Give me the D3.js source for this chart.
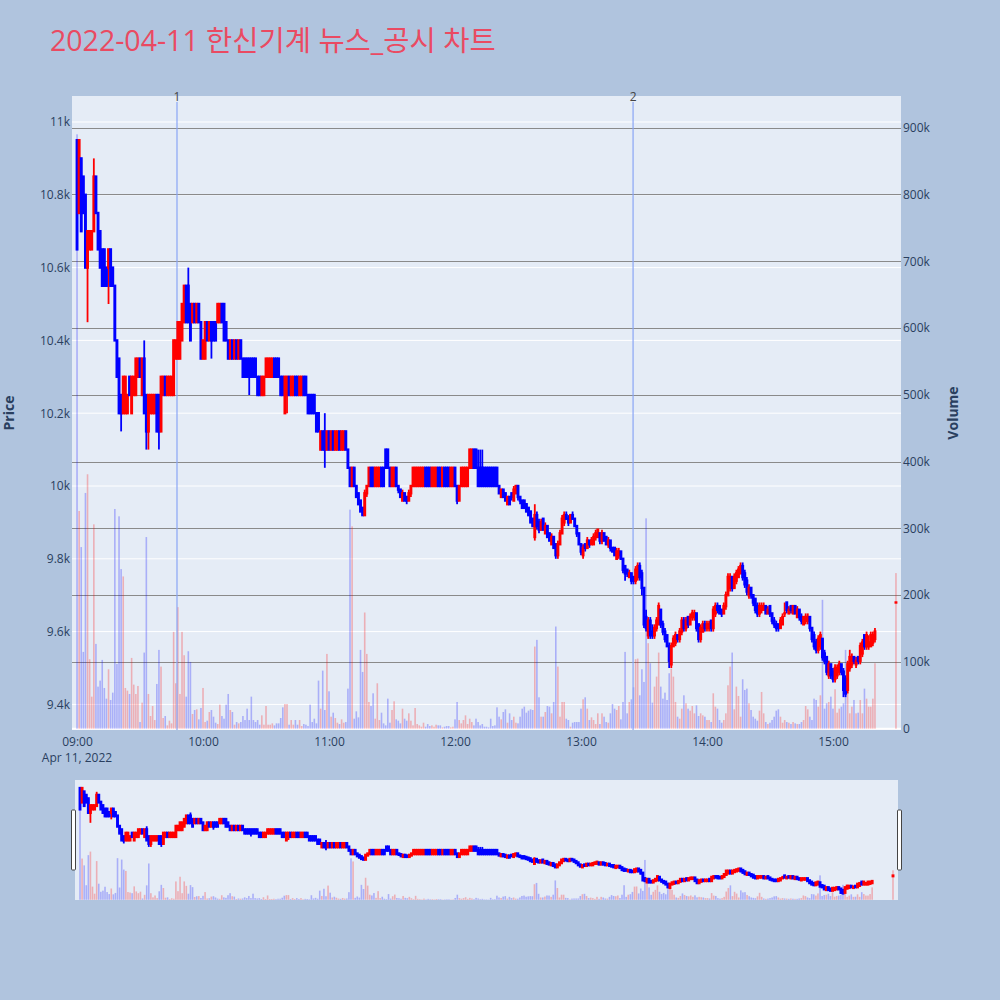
<!DOCTYPE html>
<html><head><meta charset="utf-8">
<script src="https://cdn.jsdelivr.net/npm/d3@7"></script>
<style>body{margin:0;background:#b0c4de;}svg{display:block}</style>
</head><body>
<svg id="chart" width="1000" height="1000"></svg>
<script>
// ---------------- DATA ----------------
const titleText = "2022-04-11 한신기계 뉴스_공시 차트";
const dateLabel = "Apr 11, 2022";
const hourTicks = ["09:00","10:00","11:00","12:00","13:00","14:00","15:00"];
const priceTicks = [9400,9600,9800,10000,10200,10400,10600,10800,11000];
const volumeTicks = [0,100000,200000,300000,400000,500000,600000,700000,800000,900000];
const eventLabels = ["1","2"];
const eventTimes = ["09:47:36","13:24:48"];

// 1-minute candles [open, high, low, close], one array per hour
const hour0900 = [
[10950,10950,10650,10650],[10750,10950,10750,10950],[10900,10900,10700,10700],[10850,10850,10750,10750],[10800,10800,10600,10600],
[10600,10700,10450,10700],[10650,10700,10650,10700],[10650,10700,10650,10700],[10700,10900,10700,10850],[10850,10850,10750,10750],
[10750,10750,10650,10650],[10700,10700,10600,10600],[10650,10650,10550,10550],[10650,10650,10550,10550],[10600,10600,10550,10550],
[10600,10650,10500,10650],[10650,10650,10550,10550],[10600,10600,10550,10550],[10550,10550,10400,10400],[10400,10400,10300,10300],
[10350,10350,10200,10200],[10250,10250,10150,10200],[10200,10300,10200,10300],[10200,10300,10200,10300],[10200,10250,10200,10250],
[10300,10300,10250,10250],[10200,10300,10200,10300],[10250,10300,10250,10300],[10250,10350,10250,10350],[10300,10350,10300,10350],
[10350,10350,10300,10300],[10250,10350,10250,10350],[10350,10400,10200,10200],[10250,10250,10100,10150],[10150,10250,10100,10250],
[10200,10250,10200,10250],[10200,10250,10200,10250],[10200,10250,10200,10250],[10250,10250,10150,10150],[10250,10250,10100,10150],
[10150,10300,10150,10300],[10250,10300,10250,10300],[10300,10300,10250,10250],[10250,10300,10250,10300],[10250,10300,10250,10300],
[10250,10300,10250,10300],[10250,10400,10250,10400],[10350,10400,10350,10400],[10350,10450,10350,10450],[10350,10450,10350,10450],
[10400,10500,10400,10500],[10450,10550,10450,10550],[10550,10550,10450,10450],[10550,10600,10450,10450],[10500,10500,10400,10400],
[10450,10500,10450,10500],[10500,10500,10450,10450],[10450,10500,10450,10500],[10500,10500,10450,10450],[10450,10450,10350,10350]];
const hour1000 = [
[10350,10400,10350,10400],[10350,10450,10350,10450],[10450,10450,10400,10400],[10400,10450,10400,10450],[10450,10450,10350,10400],
[10450,10450,10400,10400],[10450,10450,10400,10400],[10450,10500,10450,10500],[10450,10500,10450,10500],[10500,10500,10450,10450],
[10500,10500,10400,10400],[10450,10450,10400,10400],[10400,10400,10350,10350],[10350,10400,10350,10400],[10400,10400,10350,10350],
[10350,10400,10350,10400],[10400,10400,10350,10350],[10350,10400,10350,10400],[10400,10400,10350,10350],[10350,10350,10300,10300],
[10350,10350,10300,10300],[10350,10350,10300,10300],[10350,10350,10250,10300],[10350,10350,10300,10300],[10350,10350,10300,10300],
[10350,10350,10300,10300],[10300,10300,10250,10250],[10300,10300,10250,10250],[10250,10300,10250,10300],[10250,10300,10250,10300],
[10300,10350,10300,10350],[10300,10350,10300,10350],[10300,10350,10300,10350],[10300,10350,10300,10350],[10350,10350,10300,10300],
[10350,10350,10300,10300],[10350,10350,10300,10300],[10300,10300,10250,10250],[10300,10300,10250,10250],[10200,10300,10200,10300],
[10250,10300,10200,10300],[10300,10300,10250,10250],[10250,10300,10250,10300],[10250,10300,10250,10300],[10300,10300,10250,10250],
[10300,10300,10250,10250],[10250,10300,10250,10300],[10250,10300,10250,10300],[10300,10300,10250,10250],[10300,10300,10250,10250],
[10250,10250,10200,10200],[10250,10250,10200,10200],[10250,10250,10200,10200],[10250,10250,10200,10200],[10200,10200,10150,10150],
[10200,10200,10150,10150],[10100,10150,10100,10150],[10150,10150,10100,10100],[10150,10200,10050,10100],[10100,10150,10100,10150]];
const hour1100 = [
[10150,10150,10100,10100],[10100,10150,10100,10150],[10150,10150,10100,10100],[10100,10150,10100,10150],[10100,10150,10100,10150],
[10150,10150,10100,10100],[10100,10150,10100,10150],[10100,10150,10100,10150],[10150,10150,10100,10100],[10100,10100,10050,10050],
[10050,10050,10000,10000],[10000,10050,10000,10050],[10050,10050,10000,10000],[10000,10000,9970,9970],[9980,9980,9950,9950],
[9960,9960,9930,9930],[9940,9940,9920,9920],[9920,9990,9920,9980],[9980,10000,9970,10000],[10000,10050,10000,10050],
[10050,10050,10000,10000],[10050,10050,10000,10000],[10000,10050,10000,10050],[10000,10050,10000,10050],[10000,10050,10000,10050],
[10050,10050,10000,10000],[10050,10050,10000,10000],[10100,10100,10050,10050],[10100,10100,10050,10050],[10050,10050,10000,10000],
[10000,10050,10000,10050],[10000,10050,10000,10050],[10050,10050,10000,10000],[10000,10000,9980,9990],[9990,9990,9970,9970],
[9960,9990,9960,9980],[9980,9980,9960,9960],[9970,9970,9950,9960],[9960,9990,9960,9980],[9980,10000,9970,10000],
[10000,10050,10000,10050],[10000,10050,10000,10050],[10000,10050,10000,10050],[10000,10050,10000,10050],[10000,10050,10000,10050],
[10000,10050,10000,10050],[10050,10050,10000,10000],[10050,10050,10000,10000],[10050,10050,10000,10000],[10000,10050,10000,10050],
[10000,10050,10000,10050],[10000,10050,10000,10050],[10050,10050,10000,10000],[10050,10050,10000,10000],[10000,10050,10000,10050],
[10050,10050,10000,10000],[10050,10050,10000,10000],[10050,10050,10000,10000],[10000,10050,10000,10050],[10000,10050,10000,10050]];
const hour1200 = [
[10050,10050,10000,10000],[10000,10000,9950,9960],[9960,10000,9960,10000],[10000,10050,10000,10050],[10000,10050,10000,10050],
[10000,10050,10000,10050],[10000,10050,10000,10050],[10050,10100,10050,10100],[10050,10100,10050,10100],[10100,10100,10050,10050],
[10100,10100,10050,10050],[10050,10100,10000,10000],[10050,10100,10000,10000],[10050,10100,10000,10000],[10050,10050,10000,10000],
[10050,10050,10000,10000],[10050,10050,10000,10000],[10050,10050,10000,10000],[10050,10050,10000,10000],[10050,10050,10000,10000],
[10050,10050,10000,10000],[10000,10000,9980,9980],[9970,9990,9970,9990],[9990,9990,9970,9970],[9980,9980,9960,9960],
[9950,9970,9950,9970],[9970,9970,9950,9950],[9980,9980,9960,9970],[9960,10000,9960,9990],[9980,10000,9980,10000],
[10000,10000,9960,9970],[9970,9970,9950,9960],[9960,9960,9940,9940],[9960,9960,9940,9940],[9950,9950,9930,9930],
[9940,9940,9920,9920],[9930,9930,9900,9900],[9910,9910,9890,9890],[9860,9950,9850,9920],[9920,9930,9880,9890],
[9900,9910,9870,9880],[9880,9910,9880,9900],[9910,9910,9880,9880],[9870,9900,9870,9890],[9890,9890,9860,9860],
[9870,9870,9850,9850],[9840,9870,9840,9860],[9860,9860,9830,9830],[9840,9840,9800,9810],[9810,9850,9800,9840],
[9840,9880,9840,9870],[9870,9920,9870,9910],[9900,9930,9890,9920],[9920,9930,9910,9910],[9910,9920,9890,9900],
[9900,9920,9900,9920],[9920,9930,9910,9910],[9910,9910,9890,9890],[9890,9890,9860,9870],[9870,9870,9840,9840]];
const hour1300 = [
[9840,9840,9810,9820],[9810,9840,9800,9830],[9840,9840,9820,9830],[9830,9860,9830,9850],[9850,9850,9830,9840],
[9840,9860,9840,9850],[9840,9870,9840,9860],[9860,9880,9850,9870],[9860,9880,9860,9880],[9870,9870,9840,9850],
[9850,9880,9840,9870],[9870,9870,9850,9850],[9860,9860,9840,9840],[9840,9860,9830,9850],[9850,9850,9820,9830],
[9830,9830,9820,9820],[9830,9830,9810,9810],[9800,9830,9800,9820],[9810,9830,9800,9820],[9820,9820,9800,9800],
[9800,9800,9760,9770],[9780,9780,9740,9760],[9770,9770,9750,9760],[9750,9770,9750,9760],[9760,9760,9730,9740],
[9750,9750,9730,9740],[9740,9780,9730,9770],[9750,9790,9740,9780],[9780,9790,9740,9750],[9760,9770,9700,9720],
[9720,9720,9610,9620],[9640,9660,9600,9610],[9590,9640,9580,9630],[9630,9640,9580,9590],[9600,9620,9580,9590],
[9590,9620,9580,9610],[9610,9640,9600,9630],[9620,9680,9620,9670],[9660,9660,9610,9620],[9620,9630,9590,9600],
[9600,9610,9570,9580],[9590,9590,9560,9560],[9560,9570,9500,9520],[9510,9570,9500,9560],[9560,9590,9560,9580],
[9570,9600,9560,9590],[9590,9590,9570,9580],[9580,9610,9570,9600],[9600,9640,9590,9630],[9630,9640,9600,9610],
[9610,9640,9600,9630],[9640,9640,9610,9620],[9620,9650,9620,9640],[9640,9660,9630,9650],[9640,9660,9630,9650],
[9650,9650,9600,9610],[9620,9620,9570,9580],[9580,9620,9570,9610],[9600,9630,9600,9620],[9620,9630,9600,9610]];
const hour1400 = [
[9610,9630,9600,9620],[9610,9630,9600,9620],[9630,9630,9600,9610],[9610,9670,9600,9660],[9650,9680,9640,9670],
[9670,9680,9650,9660],[9670,9670,9650,9650],[9660,9660,9640,9650],[9650,9680,9650,9670],[9670,9710,9660,9700],
[9700,9760,9700,9750],[9720,9760,9710,9750],[9750,9750,9710,9720],[9720,9760,9720,9750],[9740,9770,9730,9760],
[9750,9780,9750,9770],[9760,9790,9760,9780],[9780,9790,9740,9750],[9760,9770,9720,9730],[9740,9750,9700,9710],
[9700,9730,9690,9720],[9720,9720,9690,9700],[9700,9700,9670,9680],[9690,9690,9650,9660],[9670,9680,9640,9650],
[9650,9680,9640,9670],[9660,9680,9650,9670],[9660,9680,9660,9670],[9670,9670,9650,9650],[9650,9670,9650,9660],
[9670,9670,9640,9650],[9650,9650,9620,9630],[9630,9640,9610,9620],[9620,9630,9600,9610],[9620,9620,9600,9610],
[9610,9640,9610,9630],[9620,9650,9620,9640],[9650,9680,9640,9650],[9680,9680,9650,9660],[9650,9670,9650,9660],
[9670,9670,9650,9660],[9650,9670,9650,9670],[9670,9670,9650,9650],[9640,9670,9640,9660],[9660,9660,9630,9640],
[9640,9650,9620,9630],[9620,9640,9620,9640],[9630,9650,9620,9640],[9630,9650,9620,9640],[9640,9640,9600,9610],
[9610,9610,9570,9580],[9590,9600,9550,9560],[9570,9580,9540,9550],[9550,9590,9540,9580],[9560,9600,9550,9590],
[9580,9580,9520,9530],[9540,9550,9510,9520],[9530,9530,9480,9490],[9480,9520,9470,9510],[9510,9510,9470,9480]];
const hour1500 = [
[9490,9500,9460,9470],[9470,9510,9460,9500],[9480,9510,9470,9500],[9490,9520,9480,9510],[9510,9510,9480,9490],
[9490,9500,9420,9440],[9470,9480,9420,9430],[9440,9520,9430,9510],[9500,9550,9490,9530],[9510,9540,9500,9530],
[9530,9530,9510,9520],[9510,9530,9500,9520],[9530,9530,9510,9520],[9520,9570,9510,9560],[9540,9580,9530,9570],
[9590,9590,9550,9560],[9560,9600,9550,9590],[9560,9590,9550,9570],[9560,9600,9560,9590],[9570,9600,9560,9590],
[9580,9610,9570,9600]];
const closingTime = "15:30";
const closingOhlc = [9680,9680,9680,9680];

// volume per minute, in thousands of shares
const vol0900 = [890,326,272,115,353,381,104,48,306,127, 63,72,103,61,45,89,43,54,329,97, 318,239,228,61,57,52,106,66,52,64,
 10,39,114,287,52,19,34,13,67,118, 93,16,19,5,12,8,145,68,182,52, 145,110,48,116,100,22,28,29,14,31];
const vol1000 = [61,10,12,25,28,18,9,7,36,19, 15,36,52,28,25,6,10,8,10,19, 13,30,13,48,13,10,13,6,20,6,
 34,6,6,8,5,8,8,16,32,37, 37,6,13,6,13,6,13,4,7,6, 4,36,10,15,8,72,30,87,28,112];
const vol1100 = [56,18,24,16,9,7,14,9,10,60, 328,303,15,26,17,118,85,174,112,40, 34,53,15,68,13,24,8,5,45,9,
 28,41,14,12,8,30,15,12,23,12, 5,31,7,5,3,9,3,7,4,5, 3,6,5,5,2,3,4,4,2,3];
const vol1200 = [14,40,13,8,13,20,7,15,10,5, 15,10,5,7,3,3,2,15,4,5, 32,18,14,25,29,9,23,13,18,9,
 8,18,30,33,24,27,29,28,123,133, 47,18,18,25,34,33,23,40,153,93, 18,40,40,15,13,3,9,10,10,10];
const vol1300 = [30,44,47,30,13,17,13,7,23,7, 23,18,10,9,23,37,30,28,34,14, 40,115,23,40,44,62,104,105,50,89,
 70,315,128,98,39,63,78,114,63,45, 54,43,83,90,78,40,18,15,30,50, 38,30,27,34,23,35,19,23,20,18];
const vol1400 = [13,13,10,53,33,30,13,9,13,23, 65,93,114,29,63,49,18,74,58,60, 38,28,18,15,12,27,55,23,10,7,
 9,13,18,27,29,18,9,13,10,9, 7,10,8,7,7,10,13,34,29,18, 13,45,43,33,50,193,30,38,40,48];
const vol1500 = [30,59,24,30,33,38,118,55,23,33, 43,23,24,43,23,60,45,33,33,45, 98];
const closingVolume = 233;

// ---------------- BUILD ----------------
const day = "2022-04-11";
const parseT = d3.timeParse("%Y-%m-%d %H:%M:%S");
const t0 = parseT(day + " 09:00:00");
const MIN = 60000;
const hourBlocks = [[hour0900,vol0900,9],[hour1000,vol1000,10],[hour1100,vol1100,11],[hour1200,vol1200,12],
                    [hour1300,vol1300,13],[hour1400,vol1400,14],[hour1500,vol1500,15]];
const rows = [];
hourBlocks.forEach(([c, v, h]) => {
  c.forEach((k, i) => rows.push({t: new Date(+t0 + ((h - 9) * 60 + i) * MIN), o:k[0], h:k[1], l:k[2], c:k[3], v:(v[i]||0)*1000}));
});
rows.push({t: parseT(day + " " + closingTime + ":00"), o:closingOhlc[0], h:closingOhlc[1], l:closingOhlc[2], c:closingOhlc[3], v:closingVolume*1000});

const RED = "#ff0000", BLUE = "#0000ff";
const colorOf = d => d.c >= d.o ? RED : BLUE;

const svg = d3.select("#chart");
const FONT = "'Open Sans', verdana, arial, sans-serif";
const TXT = "#2a3f5f";
svg.append("rect").attr("width",1000).attr("height",1000).attr("fill","#b0c4de");

const P = {l:72, r:901, t:96, b:730};
const S = {l:75, r:898, t:780, b:900};
const xDomain = [new Date(+t0 - 2.4*MIN), new Date(+t0 + 392.4*MIN)];
const x = d3.scaleTime().domain(xDomain).range([P.l, P.r]);
const yP = d3.scaleLinear().domain([9329.7, 11071.4]).range([P.b, P.t]);
const yV = d3.scaleLinear().domain([-1950, 947400]).range([P.b, P.t]);

// plot bg
svg.append("rect").attr("x",P.l).attr("y",P.t).attr("width",P.r-P.l).attr("height",P.b-P.t).attr("fill","#e5ecf6");

// grids
const grid = svg.append("g");
grid.selectAll(".gp").data(priceTicks).join("line")
  .attr("x1",P.l).attr("x2",P.r).attr("y1",d=>yP(d)).attr("y2",d=>yP(d))
  .attr("stroke","#ffffff").attr("stroke-width",1);
grid.selectAll(".gv").data(volumeTicks.filter(d=>d>0)).join("line")
  .attr("x1",P.l).attr("x2",P.r).attr("y1",d=>Math.round(yV(d))+0.5).attr("y2",d=>Math.round(yV(d))+0.5)
  .attr("stroke","#8a8a8a").attr("stroke-width",1);
grid.append("line").attr("x1",P.l).attr("x2",P.r).attr("y1",yV(0)).attr("y2",yV(0))
  .attr("stroke","#ffffff").attr("stroke-width",2);

function drawVolume(g, xs, ys, w) {
  g.selectAll("rect").data(rows).join("rect")
    .attr("x", d => xs(d.t) - w/2).attr("width", w)
    .attr("y", d => ys(d.v)).attr("height", d => Math.max(0, ys(0) - ys(d.v)))
    .attr("fill", colorOf).attr("fill-opacity", 0.26);
}
function drawCandles(g, xs, ys, bw, ww, pad) {
  g.selectAll("line").data(rows).join("line")
    .attr("x1", d => xs(d.t)).attr("x2", d => xs(d.t))
    .attr("y1", d => ys(d.h)).attr("y2", d => ys(d.l))
    .attr("stroke", colorOf).attr("stroke-width", ww);
  g.selectAll("rect").data(rows).join("rect")
    .attr("x", d => xs(d.t) - bw/2).attr("width", bw)
    .attr("y", d => ys(Math.max(d.o, d.c)) - pad/2)
    .attr("height", d => Math.abs(ys(d.o) - ys(d.c)) + pad)
    .attr("fill", colorOf);
}

// clip
svg.append("clipPath").attr("id","pc").append("rect").attr("x",P.l).attr("y",P.t).attr("width",P.r-P.l).attr("height",P.b-P.t);
const main = svg.append("g").attr("clip-path","url(#pc)");
drawVolume(main.append("g"), x, yV, 1.6);

// event lines
const evTimes = eventTimes.map(s => parseT(day + " " + s));
main.selectAll(".ev").data(evTimes).join("line")
  .attr("x1", d => x(d)).attr("x2", d => x(d))
  .attr("y1", P.t + 6).attr("y2", P.b)
  .attr("stroke", "#8aa5f5").attr("stroke-width", 1.2);

drawCandles(main.append("g"), x, yP, 2.9, 1.8, 2.4);

svg.selectAll(".evl").data(eventLabels).join("text")
  .attr("x", (d,i) => x(evTimes[i])).attr("y", P.t + 5)
  .attr("text-anchor","middle").attr("font-family",FONT).attr("font-size",12).attr("fill","#444")
  .text(d => d);

// axes
const axL = d3.axisLeft(yP).tickValues(priceTicks).tickSize(0).tickPadding(2)
  .tickFormat(d => d >= 10000 ? (d/1000) + "k" : (d/1000).toFixed(1) + "k");
const gL = svg.append("g").attr("transform",`translate(${P.l},0)`).call(axL);
const axR = d3.axisRight(yV).tickValues(volumeTicks).tickSize(0).tickPadding(2)
  .tickFormat(d => d === 0 ? "0" : (d/1000) + "k");
const gR = svg.append("g").attr("transform",`translate(${P.r},0)`).call(axR);
const xTickDates = hourTicks.map(s => parseT(day + " " + s + ":00"));
const axB = d3.axisBottom(x).tickValues(xTickDates).tickSize(0).tickPadding(7.5).tickFormat(d3.timeFormat("%H:%M"));
const gB = svg.append("g").attr("transform",`translate(0,${P.b})`).call(axB);
[gL,gR,gB].forEach(g => {
  g.select(".domain").remove();
  g.selectAll("text").attr("font-family",FONT).attr("font-size",12).attr("fill",TXT);
});
svg.append("text").attr("x", x(t0)).attr("y", 762).attr("text-anchor","middle")
  .attr("font-family",FONT).attr("font-size",12).attr("fill",TXT).text(dateLabel);

// axis titles
svg.append("text").attr("transform",`translate(14,${(P.t+P.b)/2}) rotate(-90)`).attr("text-anchor","middle")
  .attr("font-family",FONT).attr("font-size",14).attr("font-weight","bold").attr("fill",TXT).text("Price");
svg.append("text").attr("transform",`translate(958,${(P.t+P.b)/2}) rotate(-90)`).attr("text-anchor","middle")
  .attr("font-family",FONT).attr("font-size",14).attr("font-weight","bold").attr("fill",TXT).text("Volume");

// title
svg.append("text").attr("x",50).attr("y",51).attr("font-family","'Open Sans','Noto Sans CJK KR',sans-serif")
  .attr("font-size",28.5).attr("fill","#ea4a62").text(titleText);

// range slider
const xs = d3.scaleTime().domain(xDomain).range([S.l, S.r]);
const ysP = d3.scaleLinear().domain(yP.domain()).range([S.b, S.t]);
const ysV = d3.scaleLinear().domain(yV.domain()).range([S.b, S.t]);
svg.append("rect").attr("x",S.l).attr("y",S.t).attr("width",S.r-S.l).attr("height",S.b-S.t).attr("fill","#e5ecf6");
svg.append("clipPath").attr("id","sc").append("rect").attr("x",S.l).attr("y",S.t).attr("width",S.r-S.l).attr("height",S.b-S.t);
const sl = svg.append("g").attr("clip-path","url(#sc)");
drawVolume(sl.append("g"), xs, ysV, 1.6);
drawCandles(sl.append("g"), xs, ysP, 2.9, 1.8, 3);
[S.l - 1.5, S.r + 1.5].forEach(cx => {
  svg.append("rect").attr("x", cx - 2).attr("y", 810).attr("width", 4).attr("height", 60)
    .attr("rx",1).attr("fill","#ffffff").attr("stroke","#444").attr("stroke-width",1);
});
</script>
</body></html>
